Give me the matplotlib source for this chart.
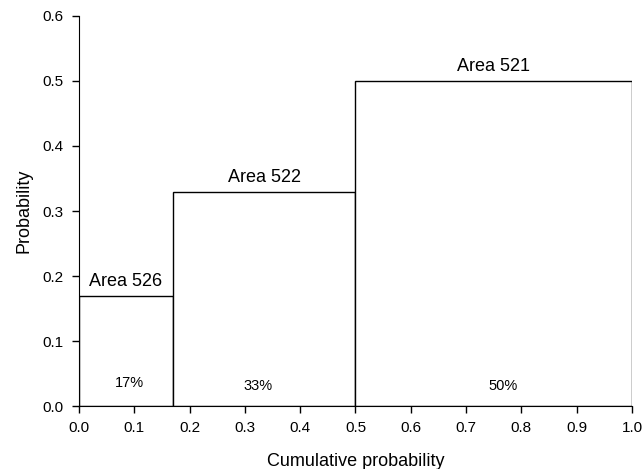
import matplotlib.pyplot as plt
import numpy as np

plt.rcParams['font.family'] = ['Liberation Sans', 'DejaVu Sans']

# data
areas = ['Area 526', 'Area 522', 'Area 521']
probs = [0.17, 0.33, 0.50]
pct_labels = ['17%', '33%', '50%']
pct_x = [0.092, 0.324, 0.767]
pct_y = [0.035, 0.031, 0.031]

lefts = np.concatenate([[0], np.cumsum(probs)[:-1]])

fig = plt.figure(figsize=(6.42, 4.69), dpi=100)
ax = fig.add_axes([0.123, 0.1343, 0.8614, 0.8316])

ax.bar(lefts, probs, width=probs, align='edge', color='white',
       edgecolor='black', linewidth=1.0, zorder=2)

for l, p, name, px, py, pl in zip(lefts, probs, areas, pct_x, pct_y, pct_labels):
    ax.text(l + p / 2, p + 0.022, name, ha='center', va='center', fontsize=13)
    ax.text(px, py, pl, ha='center', va='center', fontsize=10.5)

ax.set_xlim(0, 1.0)
ax.set_ylim(0, 0.6)
ax.set_xticks(np.arange(0, 1.01, 0.1))
ax.set_yticks(np.arange(0, 0.61, 0.1))
ax.xaxis.set_major_formatter(plt.FormatStrFormatter('%.1f'))
ax.yaxis.set_major_formatter(plt.FormatStrFormatter('%.1f'))
ax.tick_params(direction='out', length=5, labelsize=11, width=1)
ax.tick_params(axis='x', pad=6)
ax.tick_params(axis='y', pad=6)
ax.spines['top'].set_visible(False)
ax.spines['right'].set_visible(False)
ax.set_xlabel('Cumulative probability', fontsize=13, labelpad=13)
ax.set_ylabel('Probability', fontsize=13, labelpad=7)

fig.savefig('out.png', dpi=100)
